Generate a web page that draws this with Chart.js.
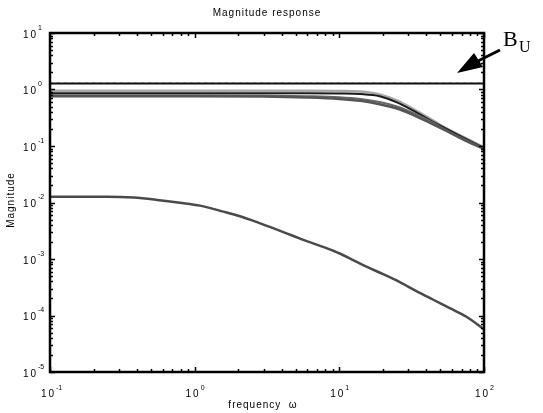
<!DOCTYPE html>
<html>
<head>
<meta charset="utf-8">
<title>Magnitude response</title>
<script src="https://cdn.jsdelivr.net/npm/chart.js@4.4.1/dist/chart.umd.min.js"></script>
<style>
  html, body { margin: 0; padding: 0; background: #fff; }
  #wrap { width: 543px; height: 413px; }
</style>
</head>
<body>
<div id="wrap"><canvas id="magChart" width="543" height="413"></canvas></div>
<script>
// frequency grid for the upper family of responses
const omegaTop = [0.1, 1, 3, 6, 10, 14, 19, 25, 32, 42, 55, 72, 100]
const magLight = [0.95, 0.95, 0.95, 0.95, 0.94, 0.92, 0.82, 0.64, 0.46, 0.31, 0.205, 0.145, 0.094]
const magBlack = [0.86, 0.86, 0.86, 0.86, 0.85, 0.83, 0.76, 0.59, 0.43, 0.29, 0.20, 0.14, 0.092]
const magDarkA = [0.76, 0.76, 0.75, 0.72, 0.68, 0.63, 0.55, 0.46, 0.36, 0.26, 0.185, 0.13, 0.088]
const magDarkB = [0.79, 0.79, 0.78, 0.76, 0.73, 0.68, 0.60, 0.50, 0.39, 0.28, 0.19, 0.135, 0.09]

// lower response
const omegaLow = [0.1, 0.25, 0.38, 0.55, 0.79, 1.09, 1.58, 2.06, 2.75, 4.1, 5.35, 6.97, 9.08, 11.8, 15.4, 20.1, 26.2, 34.1, 44.6, 58, 75.7, 100]
const magLow = [0.0127, 0.0127, 0.0122, 0.0111, 0.0099, 0.0088, 0.0069, 0.0057, 0.0044, 0.0030, 0.0023, 0.0018, 0.0014, 0.00103, 0.00073, 0.00054, 0.00039, 0.00027, 0.00019, 0.000135, 0.000095, 0.000057]

// upper bound B_U
const omegaBound = [0.1, 100]
const magBound = [1.28, 1.28]

const xTickExps = [-1, 0, 1, 2]
const yTickExps = [1, 0, -1, -2, -3, -4, -5]

const toPoints = (xs, ys) => xs.map((x, i) => ({ x, y: ys[i] }))

const line = (data, color, width, extra = {}) => ({
  data,
  borderColor: color,
  borderWidth: width,
  pointRadius: 0,
  cubicInterpolationMode: "monotone",
  fill: false,
  ...extra,
})

const FONT = "'Liberation Sans', Arial, sans-serif"

// frame, inward log ticks, exponent labels and annotations (MATLAB style)
const matlabAxes = {
  id: "matlabAxes",
  afterDatasetsDraw(chart) {
    const { ctx, chartArea: a, scales } = chart
    const xs = scales.x
    const ys = scales.y
    ctx.save()
    ctx.strokeStyle = "#000"
    ctx.fillStyle = "#000"

    // ticks
    ctx.lineWidth = 1.5
    for (let e = -1; e <= 2; e++) {
      for (let m = 1; m <= 9; m++) {
        const v = m * Math.pow(10, e)
        if (v > 100.0001) break
        const px = Math.round(xs.getPixelForValue(v)) + 0.5
        const len = m === 1 ? 5 : 3
        ctx.beginPath()
        ctx.moveTo(px, a.bottom); ctx.lineTo(px, a.bottom - len)
        ctx.moveTo(px, a.top); ctx.lineTo(px, a.top + len)
        ctx.stroke()
      }
    }
    for (let e = -5; e <= 1; e++) {
      for (let m = 1; m <= 9; m++) {
        const v = m * Math.pow(10, e)
        if (v > 10.0001) break
        const py = Math.round(ys.getPixelForValue(v)) + 0.5
        const len = m === 1 ? 5 : 3
        ctx.beginPath()
        ctx.moveTo(a.left, py); ctx.lineTo(a.left + len, py)
        ctx.moveTo(a.right, py); ctx.lineTo(a.right - len, py)
        ctx.stroke()
      }
    }

    // frame
    ctx.lineWidth = 2.5
    ctx.strokeRect(a.left, a.top, a.right - a.left, a.bottom - a.top)

    // tick labels
    ctx.textBaseline = "middle"
    yTickExps.forEach(e => {
      const py = ys.getPixelForValue(Math.pow(10, e))
      ctx.letterSpacing = "0px"
      ctx.font = "7px " + FONT
      ctx.textAlign = "left"
      ctx.fillText(String(e), 38, py - 5)
      ctx.letterSpacing = "2px"
      ctx.font = "10px " + FONT
      ctx.textAlign = "right"
      ctx.fillText("10", 38, py + 2)
    })
    xTickExps.forEach(e => {
      const px = xs.getPixelForValue(Math.pow(10, e))
      ctx.letterSpacing = "2px"
      ctx.font = "10px " + FONT
      ctx.textAlign = "right"
      ctx.fillText("10", px + 6, a.bottom + 22)
      ctx.letterSpacing = "0px"
      ctx.font = "7px " + FONT
      ctx.textAlign = "left"
      ctx.fillText(String(e), px + 6, a.bottom + 16)
    })

    // titles
    ctx.letterSpacing = "1px"
    ctx.font = "10px " + FONT
    ctx.textAlign = "center"
    ctx.fillText("Magnitude response", (a.left + a.right) / 2, 13)
    ctx.fillText("frequency  \u03c9", 263, 405)
    ctx.save()
    ctx.translate(11, 200)
    ctx.rotate(-Math.PI / 2)
    ctx.fillText("Magnitude", 0, 0)
    ctx.restore()
    ctx.letterSpacing = "0px"

    // B_U label with arrow pointing at the bound line
    ctx.font = "22px 'Liberation Serif', 'Times New Roman', serif"
    ctx.textAlign = "left"
    ctx.textBaseline = "alphabetic"
    ctx.fillText("B", 503, 46)
    ctx.font = "16px 'Liberation Serif', 'Times New Roman', serif"
    ctx.fillText("U", 519, 52)

    ctx.lineWidth = 3
    ctx.beginPath()
    ctx.moveTo(500, 50)
    ctx.lineTo(476, 62)
    ctx.stroke()
    ctx.beginPath()
    ctx.moveTo(457, 73)
    ctx.lineTo(474, 53)
    ctx.lineTo(483, 67)
    ctx.closePath()
    ctx.fill()

    ctx.restore()
  },
}

new Chart(document.getElementById("magChart"), {
  type: "line",
  data: {
    datasets: [
      line(toPoints(omegaLow, magLow), "#4a4a4a", 2.5),
      line(toPoints(omegaTop, magDarkA), "#555555", 2.5),
      line(toPoints(omegaTop, magDarkB), "#666666", 2),
      line(toPoints(omegaTop, magBlack), "#1a1a1a", 2),
      line(toPoints(omegaTop, magLight), "#a8a8a8", 2.5),
      line(toPoints(omegaBound, magBound), "#111111", 2),
      line(toPoints(omegaBound, magBound.map(v => v * 1.02)), "#9a9a9a", 1, { borderDash: [3, 4] }),
    ],
  },
  plugins: [matlabAxes],
  options: {
    responsive: false,
    animation: false,
    events: [],
    layout: { padding: { left: 50, right: 59, top: 33, bottom: 41 } },
    plugins: {
      legend: { display: false },
      tooltip: { enabled: false },
      title: { display: false },
    },
    scales: {
      x: { type: "logarithmic", min: 0.1, max: 100, display: false },
      y: { type: "logarithmic", min: 1e-5, max: 10, display: false },
    },
  },
})
</script>
</body>
</html>
